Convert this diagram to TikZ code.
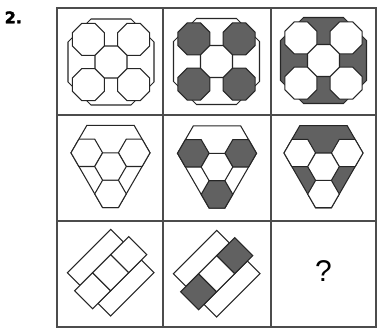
\documentclass[tikz,border=0pt]{standalone}
\usepackage{fontspec}
\newfontfamily\labfont[FakeBold=2.5]{DejaVu Sans}
\newfontfamily\qfont{Liberation Sans}
\begin{document}
\begin{tikzpicture}[x=1pt,y=-1pt,line join=miter]
\useasboundingbox (0,0) rectangle (378,329);
\tikzset{
  gridline/.style={draw=black!70,line width=1.1pt},
  shp/.style={draw=black!85,line width=1.05pt},
  dk/.style={fill=black!62},
  wt/.style={fill=white},
  oct/.pic={\path[pic actions] (22.5:17.3) -- (67.5:17.3) -- (112.5:17.3) -- (157.5:17.3) -- (202.5:17.3) -- (247.5:17.3) -- (292.5:17.3) -- (337.5:17.3) -- cycle;},
  octout/.pic={\path[pic actions] (-20,-43) -- (20,-43) -- (43,-20) -- (43,20) -- (20,43) -- (-20,43) -- (-43,20) -- (-43,-20) -- cycle;},
  hexa/.pic={\path[pic actions] (0:15.8) -- (60:15.8) -- (120:15.8) -- (180:15.8) -- (240:15.8) -- (300:15.8) -- cycle;},
  hexout/.pic={\path[pic actions] (-23.7,-41.05) -- (23.7,-41.05) -- (39.5,-13.68) -- (7.9,41.05) -- (-7.9,41.05) -- (-39.5,-13.68) -- cycle;},
}
\newcommand{\brickset}[2]{%
  \begin{scope}[shift={#1},rotate=45]
    \path[shp,wt] (-30.75,-30.55) -- (30.75,-30.55) -- (30.75,-12.75) -- (-30.75,-12.75) -- cycle;
    \path[shp,wt] (-30.75,12.75) -- (30.75,12.75) -- (30.75,30.55) -- (-30.75,30.55) -- cycle;
    \foreach \u/\st in {#2} \path[shp,\st] (\u-12.75,-12.75) -- (\u+12.75,-12.75) -- (\u+12.75,12.75) -- (\u-12.75,12.75) -- cycle;
  \end{scope}}
% grid
\draw[gridline] (57,8) rectangle (376,327);
\draw[gridline] (163,8) -- (163,327) (271,8) -- (271,327) (57,115) -- (376,115) (57,221) -- (376,221);
% label
\node[font=\labfont\bfseries\fontsize{16}{16}\selectfont,anchor=base west,inner sep=0pt] (lbl) at (4.5,23.3) {2.};
% row 1
\pic[shp,wt] at (111,62) {octout};
\foreach \dx/\dy in {-1/-1,1/-1,-1/1,1/1} \pic[shp,wt] at (111+\dx*22.6,62+\dy*22.6) {oct};
\pic[shp,wt] at (111,62) {oct};
\pic[shp,wt] at (216.5,61.5) {octout};
\foreach \dx/\dy in {-1/-1,1/-1,-1/1,1/1} \pic[shp,dk] at (216.5+\dx*22.6,61.5+\dy*22.6) {oct};
\pic[shp,wt] at (216.5,61.5) {oct};
\pic[shp,dk] at (323.5,60.5) {octout};
\foreach \dx/\dy in {-1/-1,1/-1,-1/1,1/1} \pic[shp,wt] at (323.5+\dx*22.6,60.5+\dy*22.6) {oct};
\pic[shp,wt] at (323.5,60.5) {oct};
% row 2
\pic[shp,wt] at (110.5,166.5) {hexout};
\foreach \a/\b in {-23.7/-13.68,23.7/-13.68,0/27.37,0/0} \pic[shp,wt] at (110.5+\a,166.5+\b) {hexa};
\pic[shp,wt] at (217,167) {hexout};
\foreach \a/\b in {-23.7/-13.68,23.7/-13.68,0/27.37} \pic[shp,dk] at (217+\a,167+\b) {hexa};
\pic[shp,wt] at (217,167) {hexa};
\pic[shp,dk] at (323.5,166.7) {hexout};
\foreach \a/\b in {-23.7/-13.68,23.7/-13.68,0/27.37,0/0} \pic[shp,wt] at (323.5+\a,166.7+\b) {hexa};
% row 3
\brickset{(110.7,272.7)}{-25.5/wt,0/wt,25.5/wt}
\brickset{(216.7,273.7)}{-25.5/dk,0/wt,25.5/dk}
\node[font=\qfont\fontsize{30}{30}\selectfont,inner sep=0pt] (q) at (323.5,271.5) {?};
\end{tikzpicture}
\end{document}
